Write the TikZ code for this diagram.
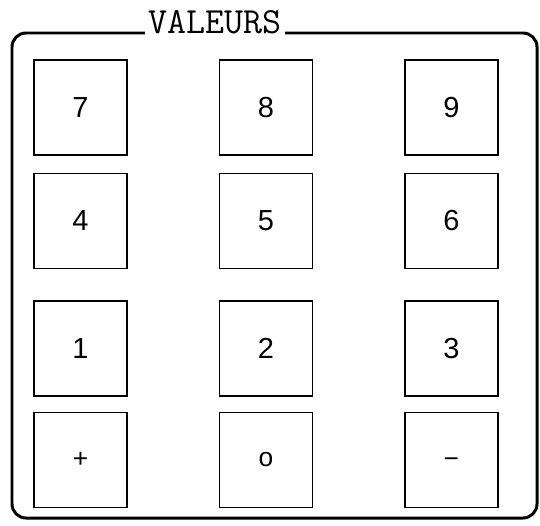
\documentclass[tikz,border=0pt]{standalone}
\usepackage{fontspec}
\usepackage{tikz}
\usetikzlibrary{positioning}
\newfontfamily\keyfont{Liberation Sans}
\tikzset{
  keybox/.style={
    draw,
    line width=0.85pt,
    minimum width=18.6mm,
    minimum height=19mm,
    inner sep=0pt,
    font=\keyfont\fontsize{16.5}{16.5}\selectfont
  },
  signbox/.style={
    keybox,
    font=\keyfont\fontsize{15}{15}\selectfont
  },
  panel/.style={draw, line width=1.7pt, rounded corners=8pt},
  paneltitle/.style={fill=white, inner sep=2pt, font=\ttfamily\fontsize{21}{21}\selectfont}
}

\begin{document}
\begin{tikzpicture}[x=0.02cm, y=-0.02cm, node distance=3.4mm and 18.2mm]
\useasboundingbox (0,0) rectangle (540,525);
\draw[panel] (12,33) rectangle (537,518);
\node[paneltitle, anchor=base] (title) at (215,33) {VALEURS};

\node[keybox] (key7) at (80.5,107.5) {7};
\node[keybox, right=of key7] (key8) {8};
\node[keybox, right=of key8] (key9) {9};

\node[keybox, below=of key7] (key4) {4};
\node[keybox, right=of key4] (key5) {5};
\node[keybox, right=of key5] (key6) {6};

\node[keybox, below=6.2mm of key4] (key1) {1};
\node[keybox, right=of key1] (key2) {2};
\node[keybox, right=of key2] (key3) {3};

\node[signbox, below=3mm of key1] (keyplus) {+};
\node[signbox, right=of keyplus] (keyzero) {o};
\node[signbox, right=of keyzero, text height=9pt, text depth=0pt] (keyminus) {−};
\end{tikzpicture}
\end{document}
